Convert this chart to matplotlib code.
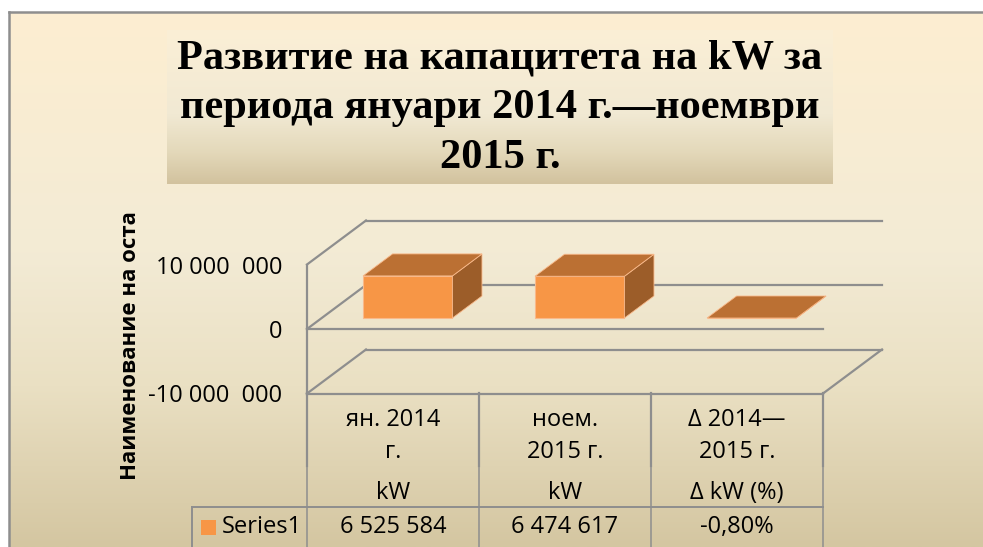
import numpy as np
import matplotlib.pyplot as plt
from matplotlib.patches import Polygon, Rectangle
from matplotlib.transforms import blended_transform_factory
from matplotlib.colors import LinearSegmentedColormap

plt.rcParams['font.family'] = ['Open Sans', 'DejaVu Sans']

# data
categories = ["ян. 2014\nг.", "ноем.\n2015 г.", "Δ 2014—\n2015 г."]
units = ["kW", "kW", "Δ kW (%)"]
values = [6525584, 6474617, -0.008]
value_labels = ["6 525 584", "6 474 617", "-0,80%"]
series_name = "Series1"
yticks = [-10000000, 0, 10000000]
ytick_labels = ["-10 000  000", "0", "10 000  000"]
title_lines = ["Развитие на капацитета на kW за",
               "периода януари 2014 г.—ноември",
               "2015 г."]
y_title = "Наименование на оста"

W, H = 983, 547
front_col = '#F79646'
top_col = '#BB7033'
side_col = '#9C5D29'
edge_col = '#F9B98A'
grid_col = '#8E8E8E'

fig = plt.figure(figsize=(W / 100, H / 100), dpi=100)
fig.patch.set_facecolor('white')

# background in pixel coords
bg = fig.add_axes([0, 0, 1, 1])
grad = np.linspace(0, 1, 256).reshape(-1, 1)
bg_cmap = LinearSegmentedColormap.from_list(
    'bg', [(0, '#FDEED1'), (0.45, '#F3EBD5'), (0.7, '#EAE0C3'), (1, '#D4C6A1')])
bg.imshow(grad, cmap=bg_cmap, extent=(9, W, H, 12), aspect='auto')
title_cmap = LinearSegmentedColormap.from_list(
    'tb', [(0, '#FBEFD6'), (0.55, '#F1E9D3'), (0.8, '#E3D8B9'), (1, '#D2C29E')])
bg.imshow(grad, cmap=title_cmap, extent=(167, 833, 184, 30), aspect='auto')
bg.plot([9, 9], [H, 12], color=grid_col, lw=1.8)
bg.plot([9, W], [12, 12], color=grid_col, lw=1.8)
bg.set_xlim(0, W)
bg.set_ylim(H, 0)
bg.axis('off')

for i, line in enumerate(title_lines):
    bg.text(500, 58 + i * 50, line, ha='center', va='center', fontsize=30.5,
            fontweight='bold', family=['Liberation Serif', 'DejaVu Serif'])

bg.text(131, 346, y_title, rotation=90, ha='center', va='center',
        fontsize=16, fontweight='bold')

# main 3d-looking axes
ax = fig.add_axes([307 / W, 1 - 393.5 / H, 516 / W, 129 / H])
ax.set_xlim(-0.5, 2.5)
ax.set_ylim(-10000000, 10000000)
ax.patch.set_alpha(0)
for s in ax.spines.values():
    s.set_visible(False)
ax.set_xticks([])
ax.set_yticks(yticks, ytick_labels, fontsize=17)
ax.tick_params(axis='y', length=0, pad=18)

DX = 59 / 516 * 3
DY = 44 / 64.5 * 10000000

gkw = dict(color=grid_col, lw=1.6, clip_on=False, zorder=1)
for v in yticks:
    ax.plot([-0.5 + DX, 2.5 + DX], [v + DY, v + DY], **gkw)
    ax.plot([-0.5, -0.5 + DX], [v, v + DY], **gkw)
ax.plot([-0.5, 2.5], [0, 0], **gkw)
ax.plot([-0.5, 2.5], [yticks[0], yticks[0]], **gkw)
ax.plot([2.5, 2.5 + DX], [yticks[0], yticks[0] + DY], **gkw)
ax.plot([-0.5, -0.5], [yticks[0], yticks[-1]], **gkw)

x = np.arange(len(values))
bw = 0.52
ax.bar(x + 0.25 * DX, values, width=bw, bottom=0.25 * DY, color=front_col,
       edgecolor=edge_col, lw=0.8, zorder=3, clip_on=False)
for xi, v in zip(x, values):
    x0 = xi - bw / 2
    x1 = xi + bw / 2
    top = [(x0 + 0.25 * DX, v + 0.25 * DY), (x1 + 0.25 * DX, v + 0.25 * DY),
           (x1 + 0.75 * DX, v + 0.75 * DY), (x0 + 0.75 * DX, v + 0.75 * DY)]
    side = [(x1 + 0.25 * DX, 0.25 * DY), (x1 + 0.25 * DX, v + 0.25 * DY),
            (x1 + 0.75 * DX, v + 0.75 * DY), (x1 + 0.75 * DX, 0.75 * DY)]
    ax.add_patch(Polygon(side, closed=True, fc=side_col, ec=edge_col, lw=0.6,
                         zorder=3, clip_on=False))
    ax.add_patch(Polygon(top, closed=True, fc=top_col, ec=edge_col, lw=0.6,
                         zorder=3, clip_on=False))

# data table below
tr = blended_transform_factory(ax.transData, bg.transData)
for xb in [-0.5, 0.5, 1.5, 2.5]:
    ax.plot([xb, xb], [393, 466], transform=tr, color=grid_col, lw=1.6,
            clip_on=False)
    ax.plot([xb, xb], [466, H], transform=tr, color=grid_col, lw=1.1,
            clip_on=False)
bg.plot([192, 823], [507, 507], color=grid_col, lw=1.4)
bg.plot([192, 192], [507, H], color=grid_col, lw=1.4)

for i in range(len(categories)):
    ax.text(i, 436, categories[i], transform=tr, ha='center', va='center',
            fontsize=17, linespacing=1.42, clip_on=False)
    ax.text(i, 493, units[i], transform=tr, ha='center', va='center',
            fontsize=17, clip_on=False)
    ax.text(i, 527, value_labels[i], transform=tr, ha='center', va='center',
            fontsize=17, clip_on=False)

bg.add_patch(Rectangle((201, 520), 15, 15, fc=front_col, ec='none'))
bg.text(222, 527, series_name, ha='left', va='center', fontsize=17)

fig.savefig('out.png', dpi=100)
